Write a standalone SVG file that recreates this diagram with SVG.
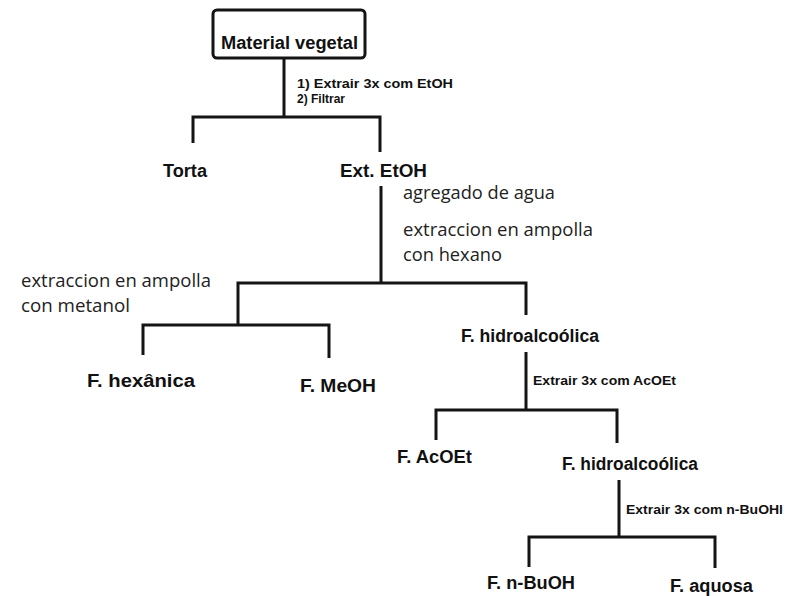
<svg xmlns="http://www.w3.org/2000/svg" width="799" height="596" viewBox="0 0 799 596">
<style>
.bg{fill:#ffffff}
.ln{fill:none;stroke:#141414;stroke-width:3;stroke-linejoin:miter}
.box{fill:#ffffff;stroke:#141414;stroke-width:3}
.nd{font-family:"Liberation Sans",Arial,sans-serif;font-weight:bold;font-size:18px;fill:#111}
.sm{font-family:"Liberation Sans",Arial,sans-serif;font-weight:bold;font-size:13.5px;fill:#111}
.nt{font-family:"Open Sans","Noto Sans",sans-serif;font-size:17.5px;fill:#222}
</style>
<rect class="bg" x="0" y="0" width="799" height="596"/>
<g id="connectors">
<path class="ln" d="M284,58 V117 M193,143 V117 H380 V152"/>
<path class="ln" d="M381,186 V283 M238,325 V283 H526 V315"/>
<path class="ln" d="M143,355 V325 H329 V358"/>
<path class="ln" d="M526,352 V410 M436,440 V410 H617 V443"/>
<path class="ln" d="M619,480 V537 M529,567 V537 H715 V568"/>
</g>
<g id="edge-labels">
<text class="sm" x="297" y="88" textLength="156" lengthAdjust="spacingAndGlyphs">1) Extrair 3x com EtOH</text>
<text class="sm" x="297" y="103" textLength="48" lengthAdjust="spacingAndGlyphs">2) Filtrar</text>
<text class="nt" x="403" y="199" textLength="152" lengthAdjust="spacingAndGlyphs">agregado de agua</text>
<text class="nt" x="403" y="236" textLength="190" lengthAdjust="spacingAndGlyphs">extraccion en ampolla</text>
<text class="nt" x="403" y="261" textLength="99" lengthAdjust="spacingAndGlyphs">con hexano</text>
<text class="nt" x="21" y="287" textLength="190" lengthAdjust="spacingAndGlyphs">extraccion en ampolla</text>
<text class="nt" x="21" y="312" textLength="109" lengthAdjust="spacingAndGlyphs">con metanol</text>
<text class="sm" x="533" y="385" textLength="143" lengthAdjust="spacingAndGlyphs">Extrair 3x com AcOEt</text>
<text class="sm" x="626" y="514" textLength="157" lengthAdjust="spacingAndGlyphs">Extrair 3x com n-BuOHl</text>
</g>
<g id="material">
<rect class="box" x="213" y="10" width="152" height="48" rx="4"/>
<text class="nd" x="221" y="49" textLength="137" lengthAdjust="spacingAndGlyphs">Material vegetal</text>
</g>
<g id="torta"><text class="nd" x="163" y="177" textLength="44" lengthAdjust="spacingAndGlyphs">Torta</text></g>
<g id="ext-etoh"><text class="nd" x="340" y="177" textLength="87" lengthAdjust="spacingAndGlyphs">Ext. EtOH</text></g>
<g id="f-hexanica"><text class="nd" x="87" y="387" textLength="108" lengthAdjust="spacingAndGlyphs">F. hexânica</text></g>
<g id="f-meoh"><text class="nd" x="300" y="392" textLength="76" lengthAdjust="spacingAndGlyphs">F. MeOH</text></g>
<g id="f-hidroalcoolica-1"><text class="nd" x="461" y="342" textLength="138" lengthAdjust="spacingAndGlyphs">F. hidroalcoólica</text></g>
<g id="f-acoet"><text class="nd" x="397" y="463" textLength="75" lengthAdjust="spacingAndGlyphs">F. AcOEt</text></g>
<g id="f-hidroalcoolica-2"><text class="nd" x="562" y="470" textLength="136" lengthAdjust="spacingAndGlyphs">F. hidroalcoólica</text></g>
<g id="f-nbuoh"><text class="nd" x="487" y="589" textLength="88" lengthAdjust="spacingAndGlyphs">F. n-BuOH</text></g>
<g id="f-aquosa"><text class="nd" x="670" y="592" textLength="83" lengthAdjust="spacingAndGlyphs">F. aquosa</text></g>
</svg>
